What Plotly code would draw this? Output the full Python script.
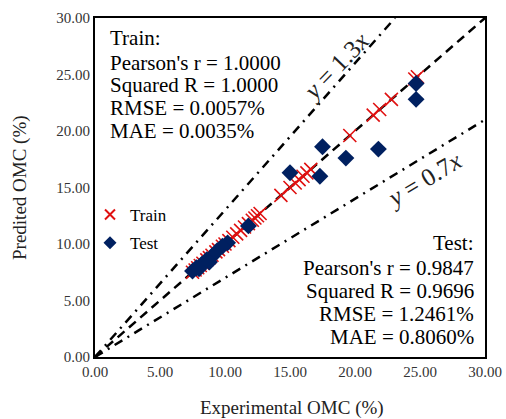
import plotly.graph_objects as go

# Train data (experimental vs predicted OMC, %)
train_exp = [7.5, 7.7, 7.9, 8.1, 8.3, 8.6, 8.8, 9.0, 9.3, 9.5, 9.8, 10.0, 10.3, 10.6, 10.9,
             11.2, 11.5, 11.8, 12.1, 12.3, 12.5, 12.7, 14.3, 15.0, 15.4, 15.7, 16.0, 16.3,
             16.6, 19.6, 21.4, 21.9, 22.8, 24.6, 24.8]
train_pred = [7.5, 7.7, 7.9, 8.1, 8.3, 8.6, 8.8, 9.0, 9.3, 9.5, 9.8, 10.0, 10.3, 10.6, 10.9,
              11.2, 11.5, 11.8, 12.1, 12.3, 12.5, 12.7, 14.3, 15.0, 15.4, 15.7, 16.0, 16.3,
              16.6, 19.6, 21.4, 21.9, 22.8, 24.6, 24.8]

# Test data
test_exp = [24.7, 24.7, 17.5, 19.3, 21.8, 15.0, 17.3, 11.8, 10.2, 9.8, 9.4, 9.0, 8.6, 8.2, 7.8, 7.5, 8.0, 8.8]
test_pred = [24.2, 22.8, 18.6, 17.6, 18.4, 16.3, 16.0, 11.6, 10.1, 9.8, 9.4, 8.9, 8.6, 8.2, 7.9, 7.6, 7.8, 8.4]

ref_x = [0, 30]
upper_x = [0, 30 / 1.3]
upper_y = [0, 30]
lower_x = [0, 30]
lower_y = [0, 21]

tick_vals = [0, 5, 10, 15, 20, 25, 30]
tick_text = ["0.00", "5.00", "10.00", "15.00", "20.00", "25.00", "30.00"]

train_lines = ["Train:", "Pearson's r = 1.0000", "Squared R = 1.0000", "RMSE = 0.0057%", "MAE = 0.0035%"]
test_lines = ["Test:", "Pearson's r = 0.9847", "Squared R = 0.9696", "RMSE = 1.2461%", "MAE = 0.8060%"]

serif = "Liberation Serif, Times New Roman, serif"

W, H = 506, 419
ML, MR, MT, MB = 95, 21, 18, 62
PW = W - ML - MR
PH = H - MT - MB
X0 = ML          # screen x of plot left edge
Y0 = MT + PH     # screen y of plot bottom edge


def sx(px):
    return (px - X0) / PW


def sy(py):
    return (Y0 - py) / PH


fig = go.Figure()
fig.add_trace(go.Scatter(x=ref_x, y=ref_x, mode="lines", showlegend=False,
                         line=dict(color="black", width=2.5, dash="9px,6px")))
fig.add_trace(go.Scatter(x=upper_x, y=upper_y, mode="lines", showlegend=False,
                         line=dict(color="black", width=2.5, dash="9px,6px,2px,6px")))
fig.add_trace(go.Scatter(x=lower_x, y=lower_y, mode="lines", showlegend=False,
                         line=dict(color="black", width=2.5, dash="9px,6px,2px,6px")))
fig.add_trace(go.Scatter(x=train_exp, y=train_pred, mode="markers", name="Train", showlegend=False,
                         marker=dict(symbol="x-thin", size=13, line=dict(color="#e01010", width=1.6),
                                     color="#e01010")))
fig.add_trace(go.Scatter(x=test_exp, y=test_pred, mode="markers", name="Test", showlegend=False,
                         marker=dict(symbol="diamond", size=13, color="#002060")))
# legend entries (smaller symbols, as in the reference legend)
fig.add_trace(go.Scatter(x=[None], y=[None], mode="markers", name="Train", legendgroup="a",
                         marker=dict(symbol="x-thin", size=10, line=dict(color="#e01010", width=2),
                                     color="#e01010")))
fig.add_trace(go.Scatter(x=[None], y=[None], mode="markers", name="Test", legendgroup="b",
                         marker=dict(symbol="diamond", size=10, color="#002060")))

train_y = [38, 63, 85, 108, 131]
test_y = [243, 268, 291, 314, 337]
for t, yy in zip(train_lines, train_y):
    fig.add_annotation(x=sx(108), y=sy(yy), xref="paper", yref="paper",
                       text=t, showarrow=False, xanchor="left", yanchor="middle",
                       font=dict(family=serif, size=21, color="black"))
for t, yy in zip(test_lines, test_y):
    fig.add_annotation(x=sx(476), y=sy(yy), xref="paper", yref="paper",
                       text=t, showarrow=False, xanchor="right", yanchor="middle",
                       font=dict(family=serif, size=21, color="black"))

fig.add_annotation(x=18.5, y=25.7, text="<i>y</i> = 1.3<i>x</i>", showarrow=False,
                   textangle=-46, font=dict(family=serif, size=25, color="#222"))
fig.add_annotation(x=25.3, y=15.7, text="<i>y</i> = 0.7<i>x</i>", showarrow=False,
                   textangle=-31, font=dict(family=serif, size=25, color="#222"))

# axis titles
fig.add_annotation(x=sx(292), y=sy(408), xref="paper", yref="paper", text="Experimental OMC (%)",
                   showarrow=False, xanchor="center", yanchor="middle",
                   font=dict(family=serif, size=19, color="#222"))
fig.add_annotation(x=sx(20), y=sy(188), xref="paper", yref="paper", text="Predited OMC (%)",
                   showarrow=False, xanchor="center", yanchor="middle", textangle=-90,
                   font=dict(family=serif, size=19, color="#222"))

axis_common = dict(range=[0, 30], tickvals=tick_vals, ticktext=tick_text, showgrid=False,
                   zeroline=False, showline=True, linecolor="black", linewidth=2, mirror=True,
                   ticks="", automargin=False,
                   tickfont=dict(family=serif, size=15, color="#333333"))
fig.update_xaxes(**axis_common)
fig.update_yaxes(**axis_common)

fig.update_layout(width=W, height=H, margin=dict(l=ML, r=MR, t=MT, b=MB),
                  plot_bgcolor="white", paper_bgcolor="white",
                  legend=dict(x=sx(90), y=sy(197), xanchor="left", yanchor="top",
                              font=dict(family=serif, size=17, color="black"),
                              bgcolor="rgba(0,0,0,0)", tracegroupgap=3, itemwidth=30))

# remove the default page margin so the 506x419 figure fills the window exactly
fig.write_html("out.html", config={"displayModeBar": False},
               post_script="document.body.style.margin='0';document.body.style.overflow='hidden';")
